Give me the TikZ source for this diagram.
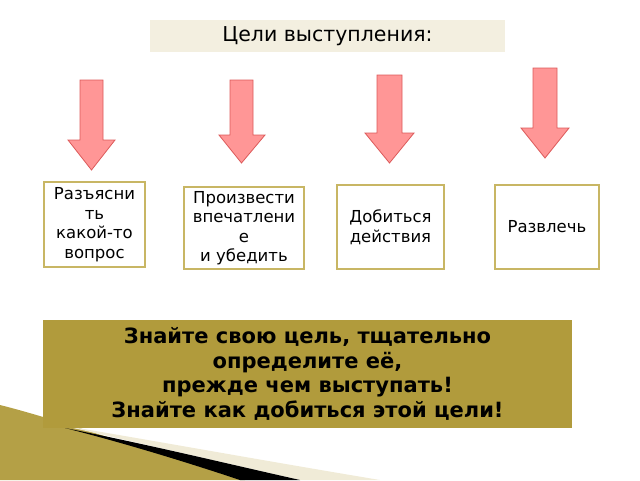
\documentclass[tikz,border=0pt]{standalone}
\usepackage{fontspec}
\setmainfont{DejaVu Sans}
\definecolor{arrfill}{RGB}{255,150,150}
\definecolor{arrdraw}{RGB}{220,90,90}
\definecolor{boxdraw}{RGB}{200,182,100}
\definecolor{gold}{RGB}{180,160,70}
\definecolor{cream}{RGB}{240,235,215}
\definecolor{titlebg}{RGB}{243,239,224}
\definecolor{msgbg}{RGB}{177,155,60}
\begin{document}
\begin{tikzpicture}[x=1pt,y=-1pt,
  arr/.style={fill=arrfill, draw=arrdraw, line width=0.8pt},
  goal/.style={draw=boxdraw, line width=2.5pt, fill=white, align=center, font=\fontsize{16.5}{19.5}\selectfont, inner sep=2pt}]
\useasboundingbox (0,0) rectangle (640,480);
% decoration
\fill[gold] (0,405) .. controls (60,420) and (160,455) .. (245,480) -- (0,480) -- cycle;
\fill[cream] (60,425) .. controls (150,440) and (260,460) .. (380,480) -- (300,480) -- cycle;
\fill[black] (65,428) .. controls (150,445) and (220,462) .. (300,480) -- (240,480) .. controls (180,460) and (120,442) .. (65,428) -- cycle;
% title
\node[fill=titlebg, minimum width=355pt, minimum height=32pt, font=\fontsize{20.5}{24}\selectfont] (title) at (327.5,36) {Цели выступления:};
% arrows
\foreach \l/\r/\hl/\hr/\t/\b/\tip in {80/103/68/115/80/140/170, 230/253/219/265/80/135/163, 377/402/365/414/75/133/163, 533/557/521/569/68/128/158}{
  \draw[arr] (\l,\t) -- (\r,\t) -- (\r,\b) -- (\hr,\b) -- ({(\l+\r)/2},\tip) -- (\hl,\b) -- (\l,\b) -- cycle;
}
% boxes
\node[goal, minimum width=101pt, minimum height=85pt] (g1) at (94.5,224.5) {Разъясни\\ть\\какой-то\\вопрос};
\node[goal, minimum width=120pt, minimum height=82pt] (g2) at (244,228) {Произвести\\впечатлени\\е\\и убедить};
\node[goal, minimum width=107pt, minimum height=84pt] (g3) at (390.5,227) {Добиться\\действия};
\node[goal, minimum width=104pt, minimum height=84pt] (g4) at (547,227) {Развлечь};
% bottom
\node[fill=msgbg, minimum width=529pt, minimum height=108pt, align=center, font=\bfseries\fontsize{21}{24.5}\selectfont] (msg) at (307.5,374) {Знайте свою цель, тщательно\\определите её,\\прежде чем выступать!\\Знайте как добиться этой цели!};
\end{tikzpicture}
\end{document}
